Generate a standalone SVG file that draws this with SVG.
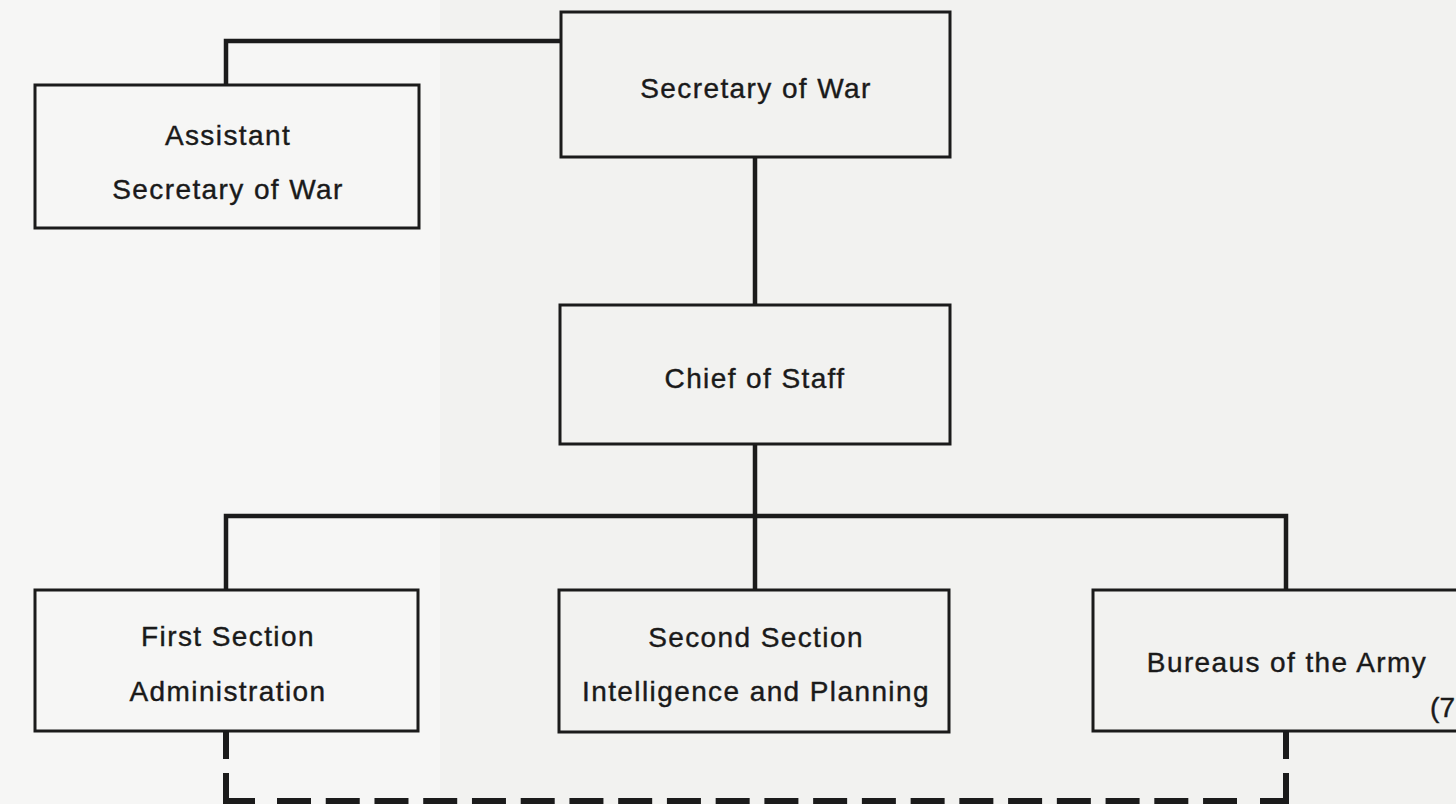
<svg xmlns="http://www.w3.org/2000/svg" width="1456" height="804" viewBox="0 0 1456 804">
  <style>
    .box { fill: none; stroke: #1b1b1b; stroke-width: 3; }
    .label { font-family: "Liberation Sans", Arial, Helvetica, sans-serif; font-size: 28px; letter-spacing: 1.4px; fill: #1a1a1a; stroke: #1a1a1a; stroke-width: 0.4px; text-anchor: middle; }
    .note { font-family: "Liberation Sans", Arial, Helvetica, sans-serif; font-size: 28px; fill: #1a1a1a; stroke: #1a1a1a; stroke-width: 0.4px; text-anchor: end; }
    .link { fill: none; stroke: #1b1b1b; stroke-width: 4.5; stroke-linejoin: miter; stroke-linecap: butt; }
    .dotted { fill: none; stroke: #1b1b1b; stroke-width: 6; stroke-linejoin: miter; stroke-linecap: butt; }
    .dash-run { fill: none; stroke: #1b1b1b; stroke-width: 6; stroke-dasharray: 34 14.74; }
  </style>

  <!-- paper -->
  <rect x="0" y="0" width="1456" height="804" fill="#f2f2f0"/>
  <rect x="0" y="0" width="440" height="804" fill="#f6f6f5"/>

  <!-- connectors -->
  <g id="connectors">
    <!-- Secretary of War to Assistant -->
    <path class="link" d="M226,85 V41 H561"/>
    <!-- Secretary of War to Chief of Staff -->
    <path class="link" d="M755,157 V305"/>
    <!-- Chief of Staff to the three sections -->
    <path class="link" d="M755,444 V590"/>
    <path class="link" d="M226,590 V516 H1286 V590"/>
    <!-- dashed coordination line under the sections -->
    <path class="dotted" d="M226,732 V759 M1286,732 V759"/>
    <path class="dotted" d="M226,773 V801 H255 M1260,801 H1286 V773"/>
    <path class="dash-run" d="M277,801 H1237"/>
  </g>

  <g id="secretary">
    <rect class="box" x="561" y="12" width="389" height="145"/>
    <text class="label" x="756" y="98">Secretary of War</text>
  </g>

  <g id="assistant">
    <rect class="box" x="35" y="85" width="384" height="143"/>
    <text class="label" x="228" y="145">Assistant</text>
    <text class="label" x="228" y="199">Secretary of War</text>
  </g>

  <g id="chief">
    <rect class="box" x="560" y="305" width="390" height="139"/>
    <text class="label" x="755" y="388">Chief of Staff</text>
  </g>

  <g id="first-section">
    <rect class="box" x="35" y="590" width="383" height="141"/>
    <text class="label" x="228" y="646">First Section</text>
    <text class="label" x="228" y="701">Administration</text>
  </g>

  <g id="second-section">
    <rect class="box" x="559" y="590" width="390" height="142"/>
    <text class="label" x="756" y="647">Second Section</text>
    <text class="label" x="756" y="701">Intelligence and Planning</text>
  </g>

  <g id="bureaus">
    <rect class="box" x="1093" y="590" width="400" height="141"/>
    <text class="label" x="1287" y="672">Bureaus of the Army</text>
    <text class="note" x="1455" y="717">(7</text>
  </g>
</svg>
